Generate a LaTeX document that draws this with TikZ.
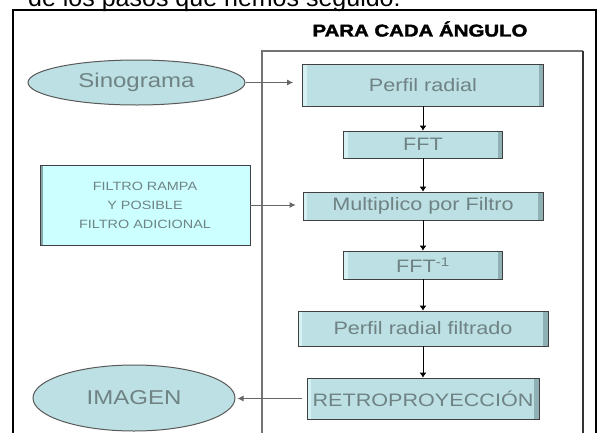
\documentclass[tikz,border=0pt]{standalone}
\usepackage{fontspec}
\setmainfont{Liberation Sans}
\newfontfamily\boxfont[FakeStretch=1.2]{Liberation Sans}
\newfontfamily\headfont[FakeStretch=1.2,FakeBold=2]{Liberation Sans}
\usetikzlibrary{arrows.meta,positioning,calc,shapes.geometric}
\definecolor{StepFill}{HTML}{BCE0E3}
\definecolor{StepEdge}{HTML}{8FB1B3}
\definecolor{StepLight}{HTML}{D6F1F3}
\definecolor{FiltFill}{HTML}{CCFFFF}
\definecolor{FiltEdge}{HTML}{86A8AA}
\definecolor{LabelGray}{HTML}{6F8284}
\definecolor{LineGray}{HTML}{666666}
\tikzset{
  stepbox/.style={draw=black!75, fill=StepFill, line width=0.8pt, inner sep=0pt,
                  font=\boxfont\fontsize{18}{20}\selectfont\color{LabelGray},
                  path picture={
                    \fill[StepEdge] ([xshift=-5pt]path picture bounding box.north east)
                      rectangle (path picture bounding box.south east);
                    \fill[StepLight] (path picture bounding box.north west)
                      rectangle ([xshift=4pt]path picture bounding box.south west);
                  }},
  termnode/.style={ellipse, draw=black!65, fill=StepFill, line width=1pt, inner sep=0pt,
                   font=\boxfont\fontsize{20}{22}\selectfont\color{LabelGray}},
  filtbox/.style={draw=black!75, fill=FiltFill, line width=0.8pt, inner sep=0pt, align=center,
                  font=\boxfont\fontsize{12}{19}\selectfont\color{LabelGray},
                  path picture={
                    \fill[FiltEdge] (path picture bounding box.north west)
                      rectangle ([xshift=3pt]path picture bounding box.south west);
                  }},
  arrow/.style={-{Latex[length=5pt,width=7pt]}, line width=0.9pt, black},
  feed/.style={-{Latex[length=6pt,width=6pt]}, line width=0.8pt, LineGray},
}

\begin{document}
\begin{tikzpicture}[x=1pt, y=-1pt]
  \clip (0,0) rectangle (598,432);

  % sentence cut by the top edge
  \node[font=\fontsize{25}{28}\selectfont, anchor=base west, inner sep=0pt] (lead) at (28,6)
        {de los pasos que hemos seguido:};

  % frames
  \draw[line width=1.6pt] (13,440) -- (13,10) -- (596,10) -- (596,440);
  \draw[line width=1.6pt, black!55] (262,440) -- (262,51) -- (583,51);
  \draw[line width=1.6pt, black!80] (583,51) -- (583,440);
  \node[font=\headfont\bfseries\fontsize{17}{20}\selectfont, inner sep=0pt] (loop) at (420,29)
        {PARA CADA ÁNGULO};

  % outside the loop
  \node[termnode, minimum width=217pt, minimum height=45pt] (sino) at (136.5,82.5) {Sinograma};
  \node[filtbox, minimum width=210pt, minimum height=80pt] (filtro) at (145,205)
        {FILTRO RAMPA\\Y POSIBLE\\FILTRO ADICIONAL};
  \node[termnode, minimum width=202pt, minimum height=66pt] (imagen) at (134,398) {IMAGEN};

  % steps for each angle
  \node[stepbox, minimum width=241pt, minimum height=42pt] (radial) at (423,85) {Perfil radial};
  \node[stepbox, minimum width=159pt, minimum height=27pt] (fft) at (423,144.5) {FFT};
  \node[stepbox, minimum width=240pt, minimum height=28pt] (mult) at (423,206) {Multiplico por Filtro};
  \node[stepbox, minimum width=159pt, minimum height=28pt] (ifft) at (423,265) {FFT\textsuperscript{-1}};
  \node[stepbox, minimum width=250pt, minimum height=35pt] (filtrado) at (423,328.5) {Perfil radial filtrado};
  \node[stepbox, minimum width=232pt, minimum height=41pt] (retro) at (423,398.5) {RETROPROYECCIÓN};

  \draw[arrow] (radial) -- (fft);
  \draw[arrow] (fft) -- (mult);
  \draw[arrow] (mult) -- (ifft);
  \draw[arrow] (ifft) -- (filtrado);
  \draw[arrow] (filtrado) -- (retro);

  \draw[feed, shorten >=9pt] (sino.east) -- (sino.east -| radial.west);
  \draw[feed, shorten >=7pt] (filtro.east) -- (filtro.east -| mult.west);
  \draw[feed, shorten <=5pt, shorten >=2pt] (retro.west) -- (retro.west -| imagen.east);

\end{tikzpicture}
\end{document}
